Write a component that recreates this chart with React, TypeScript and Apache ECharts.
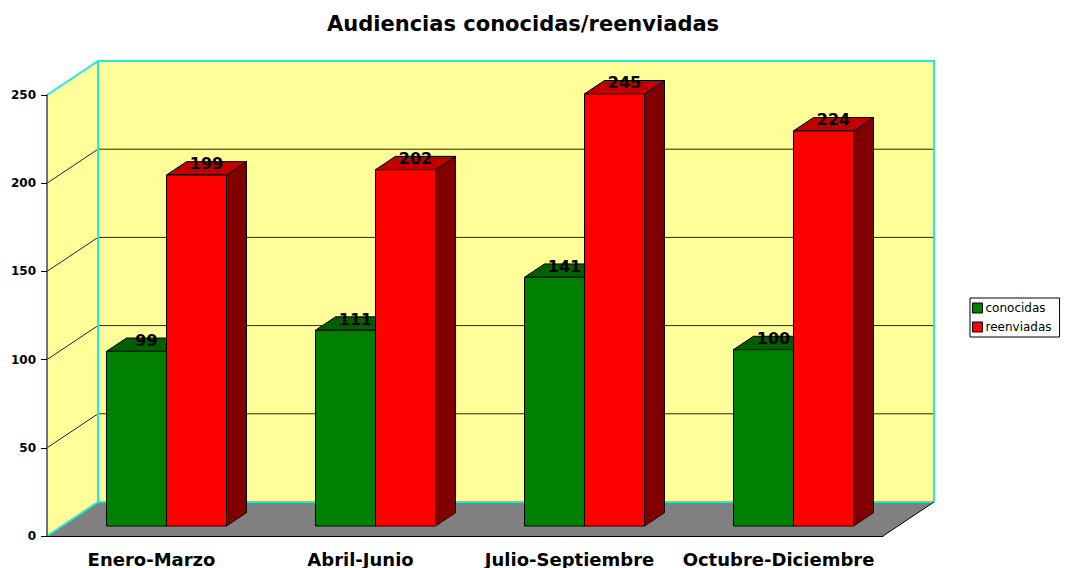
import React, { useEffect, useRef } from "react";
import * as echarts from "echarts";

const TITLE = "Audiencias conocidas/reenviadas";
const CATEGORIES = ["Enero-Marzo", "Abril-Junio", "Julio-Septiembre", "Octubre-Diciembre"];
const SERIES_NAMES = ["conocidas", "reenviadas"];
const CONOCIDAS = [99, 111, 141, 100];
const REENVIADAS = [199, 202, 245, 224];
const Y_TICKS = [0, 50, 100, 150, 200, 250];

const FONT = "'DejaVu Sans', Verdana, sans-serif";
const DX = 51;
const DY = -34;
const F0 = 0.294;
const F1 = 0.686;
const BAR_RATIO = 60 / 209;

const COLORS = [
  { front: "#008000", top: "#006000", side: "#004000" },
  { front: "#FF0000", top: "#C00000", side: "#800000" },
];

function backdropRender(params: any, api: any) {
  const cs = params.coordSys;
  const xl = cs.x;
  const xr = cs.x + cs.width;
  const y0 = api.coord([0, 0])[1];
  const yMax = api.coord([0, Y_TICKS[Y_TICKS.length - 1]])[1];
  const children: any[] = [];
  children.push({
    type: "polygon",
    shape: { points: [[xl, y0], [xl + DX, y0 + DY], [xl + DX, yMax + DY], [xl, yMax]] },
    style: { fill: "#FFFF99", stroke: "none" },
  });
  children.push({
    type: "rect",
    shape: { x: xl + DX, y: yMax + DY, width: cs.width, height: y0 - yMax },
    style: { fill: "#FFFF99", stroke: "none" },
  });
  children.push({
    type: "polygon",
    shape: { points: [[xl, y0], [xr, y0], [xr + DX, y0 + DY], [xl + DX, y0 + DY]] },
    style: { fill: "#808080", stroke: "none" },
  });
  Y_TICKS.forEach((t, i) => {
    if (i === 0 || i === Y_TICKS.length - 1) return;
    const y = api.coord([0, t])[1];
    children.push({
      type: "polyline",
      shape: { points: [[xl, y], [xl + DX, y + DY], [xr + DX, y + DY]] },
      style: { stroke: "#222", lineWidth: 1, fill: "none" },
    });
  });
  children.push({
    type: "polyline",
    shape: { points: [[xl, yMax], [xl + DX, yMax + DY], [xr + DX, yMax + DY], [xr + DX, y0 + DY]] },
    style: { stroke: "#22E8E0", lineWidth: 2, fill: "none" },
  });
  children.push({
    type: "polyline",
    shape: { points: [[xl, y0], [xl + DX, y0 + DY], [xr + DX, y0 + DY]] },
    style: { stroke: "#22E8E0", lineWidth: 2, fill: "none" },
  });
  children.push({
    type: "line",
    shape: { x1: xl + DX, y1: yMax + DY, x2: xl + DX, y2: y0 + DY },
    style: { stroke: "#22E8E0", lineWidth: 2 },
  });
  children.push({
    type: "line",
    shape: { x1: xr, y1: y0, x2: xr + DX, y2: y0 + DY },
    style: { stroke: "#000", lineWidth: 1 },
  });
  return { type: "group", children };
}

function makeBarRender(si: number) {
  return (params: any, api: any) => {
    const idx = api.value(0);
    const v = api.value(1);
    const [cx, yTop] = api.coord([idx, v]);
    const yBase = api.coord([idx, 0])[1];
    const catW = api.size([1, 0])[0];
    const bw = catW * BAR_RATIO;
    const x0 = cx + (si === 0 ? -bw : 0) + DX * F0;
    const x1 = x0 + bw;
    const yT = yTop + DY * F0;
    const yB = yBase + DY * F0;
    const ddx = DX * (F1 - F0);
    const ddy = DY * (F1 - F0);
    const c = COLORS[si];
    const stroke = { stroke: "#000", lineWidth: 1 };
    return {
      type: "group",
      children: [
        {
          type: "polygon",
          shape: { points: [[x1, yT], [x1 + ddx, yT + ddy], [x1 + ddx, yB + ddy], [x1, yB]] },
          style: { fill: c.side, ...stroke },
        },
        {
          type: "polygon",
          shape: { points: [[x0, yT], [x1, yT], [x1 + ddx, yT + ddy], [x0 + ddx, yT + ddy]] },
          style: { fill: c.top, ...stroke },
        },
        {
          type: "rect",
          shape: { x: x0, y: yT, width: bw, height: yB - yT },
          style: { fill: c.front, ...stroke },
        },
        {
          type: "text",
          style: {
            text: String(v),
            x: x0 + bw / 2 + ddx / 2,
            y: yT - 11,
            align: "center",
            verticalAlign: "middle",
            fill: "#000",
            font: `bold 16px ${FONT}`,
          },
        },
      ],
    };
  };
}

export default function App() {
  const ref = useRef<HTMLDivElement>(null);
  useEffect(() => {
    if (!ref.current) return;
    const chart = echarts.init(ref.current, null, { renderer: "svg" });
    const seriesData = [CONOCIDAS, REENVIADAS];
    chart.setOption({
      animation: false,
      backgroundColor: "#fff",
      title: {
        text: TITLE,
        left: 322,
        top: 8,
        textStyle: { fontFamily: FONT, fontWeight: "bold", fontSize: 21, color: "#000" },
      },
      legend: {
        orient: "vertical",
        left: 970,
        top: 298,
        data: SERIES_NAMES,
        icon: "rect",
        itemWidth: 10,
        itemHeight: 10,
        itemGap: 5,
        padding: [3, 8, 3, 2],
        borderColor: "#000",
        borderWidth: 1,
        itemStyle: { borderColor: "#000", borderWidth: 1 },
        textStyle: { fontFamily: FONT, fontSize: 12, color: "#000", lineHeight: 14, padding: [0, 0, 0, -2] },
      },
      grid: { left: 47, top: 95, width: 836, height: 442 },
      xAxis: {
        type: "category",
        data: CATEGORIES,
        z: 10,
        axisLine: { lineStyle: { color: "#000", width: 1 } },
        axisTick: { length: 8, lineStyle: { color: "#000" } },
        axisLabel: {
          interval: 0,
          hideOverlap: false,
          fontFamily: FONT,
          fontWeight: "bold",
          fontSize: 18,
          color: "#000",
          margin: 14,
        },
        splitLine: { show: false },
      },
      yAxis: {
        type: "value",
        min: 0,
        max: 250,
        interval: 50,
        z: 10,
        axisLine: { show: true, lineStyle: { color: "#2F4F4F", width: 1.5 } },
        axisTick: { show: true, length: 6, lineStyle: { color: "#000" } },
        axisLabel: { fontFamily: FONT, fontWeight: "bold", fontSize: 12, color: "#000", margin: 11 },
        splitLine: { show: false },
      },
      series: [
        {
          type: "custom",
          z: 1,
          silent: true,
          renderItem: backdropRender,
          data: [[0, 0]],
          encode: { x: 0, y: 1 },
        },
        ...seriesData.map((arr, si) => ({
          type: "custom",
          name: SERIES_NAMES[si],
          z: 2,
          itemStyle: { color: COLORS[si].front },
          renderItem: makeBarRender(si),
          data: arr.map((v, i) => [i, v]),
          encode: { x: 0, y: 1 },
        })),
      ],
    });
    return () => chart.dispose();
  }, []);
  return (
    <div
      ref={ref}
      style={{ position: "absolute", left: 0, top: 0, width: 1065, height: 568 }}
    />
  );
}
